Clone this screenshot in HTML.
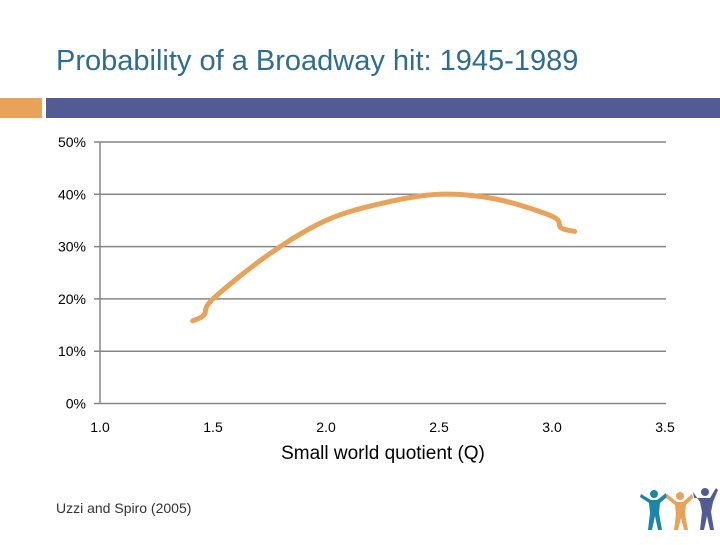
<!DOCTYPE html>
<html><head><meta charset="utf-8"><style>
body{margin:0;background:#fff;width:720px;height:540px;overflow:hidden;font-family:"Liberation Sans",sans-serif}
</style></head><body>
<svg width="720" height="540" xmlns="http://www.w3.org/2000/svg">
<text x="56" y="70" font-size="29" fill="#2f6d8f" font-family="Liberation Sans, sans-serif">Probability of a Broadway hit: 1945-1989</text>
<rect x="0" y="98" width="42" height="20" fill="#e8a25a"/>
<rect x="46" y="98" width="674" height="20" fill="#525b94"/>
<g id="chart"></g>
<text x="383" y="459" font-size="19" text-anchor="middle" fill="#000">Small world quotient (Q)</text>
<text x="56" y="513" font-size="14" fill="#333">Uzzi and Spiro (2005)</text>
<g>
<g fill="#1a86a8"><circle cx="654" cy="494" r="4"/><path d="M641 494 L651 500 L657 500 L666 493 L667 497 L660 503 L659 513 L662 530 L658 530 L655 516 L652 530 L648 530 L650 513 L649 503 L640 497Z"/></g>
<g fill="#e8a25a"><circle cx="680" cy="496" r="4"/><path d="M667 494 L677 502 L683 502 L692 494 L693 498 L686 505 L685 514 L688 530 L684 530 L681 518 L678 530 L674 530 L676 514 L675 505 L666 498Z"/></g>
<g fill="#525b94"><circle cx="705" cy="492" r="4"/><path d="M694 498 L700 498 L710 498 L716 488 L718 490 L713 502 L711 512 L714 530 L710 530 L707 516 L704 530 L700 530 L702 512 L700 502 L693 492Z"/></g>
</g>
</svg>
<script>
const xTicks=[1.0,1.5,2.0,2.5,3.0,3.5];
const yTicks=[0,10,20,30,40,50];
const qValues=[1.41,1.46,1.50,1.75,2.0,2.25,2.5,2.75,3.0,3.04,3.1];
const hitPct=[15.8,16.9,20.0,28.6,35.0,38.3,40.0,39.1,35.8,33.6,32.9];
const NS="http://www.w3.org/2000/svg";
const g=document.getElementById('chart');
const X=v=>100+(v-1)*226;
const Y=v=>403.5-v*5.23;
function mk(t,a){const e=document.createElementNS(NS,t);for(const k in a)e.setAttribute(k,a[k]);g.appendChild(e);return e;}
yTicks.forEach(t=>{
 const l=mk('line',{x1:94,x2:666,y1:Y(t),y2:Y(t),stroke:'#868686','stroke-width':1.5});
 
 
 const tx=mk('text',{x:86,y:Y(t)+5,'font-size':14,'text-anchor':'end',fill:'#000'});
 tx.textContent=t+'%';
 
 
});
const ax=mk('line',{x1:X(1),x2:X(1),y1:Y(0),y2:Y(50),stroke:'#868686','stroke-width':1.5});


xTicks.forEach(t=>{
 const tx=mk('text',{x:X(t),y:432,'font-size':14,'text-anchor':'middle',fill:'#000'});
 tx.textContent=t.toFixed(1);
 
 
});
const P=qValues.map((q,i)=>[X(q),Y(hitPct[i])]);
let d='M'+P[0][0]+','+P[0][1];
for(let i=0;i<P.length-1;i++){
 const p0=P[i-1]||P[i],p1=P[i],p2=P[i+1],p3=P[i+2]||P[i+1];
 d+=' C'+(p1[0]+(p2[0]-p0[0])/6)+','+(p1[1]+(p2[1]-p0[1])/6)+' '+(p2[0]-(p3[0]-p1[0])/6)+','+(p2[1]-(p3[1]-p1[1])/6)+' '+p2[0]+','+p2[1];
}
const line=mk('path',{d:d,fill:'none',stroke:'#e8a25a','stroke-width':5,'stroke-linecap':'round'});


</script>
</body></html>
